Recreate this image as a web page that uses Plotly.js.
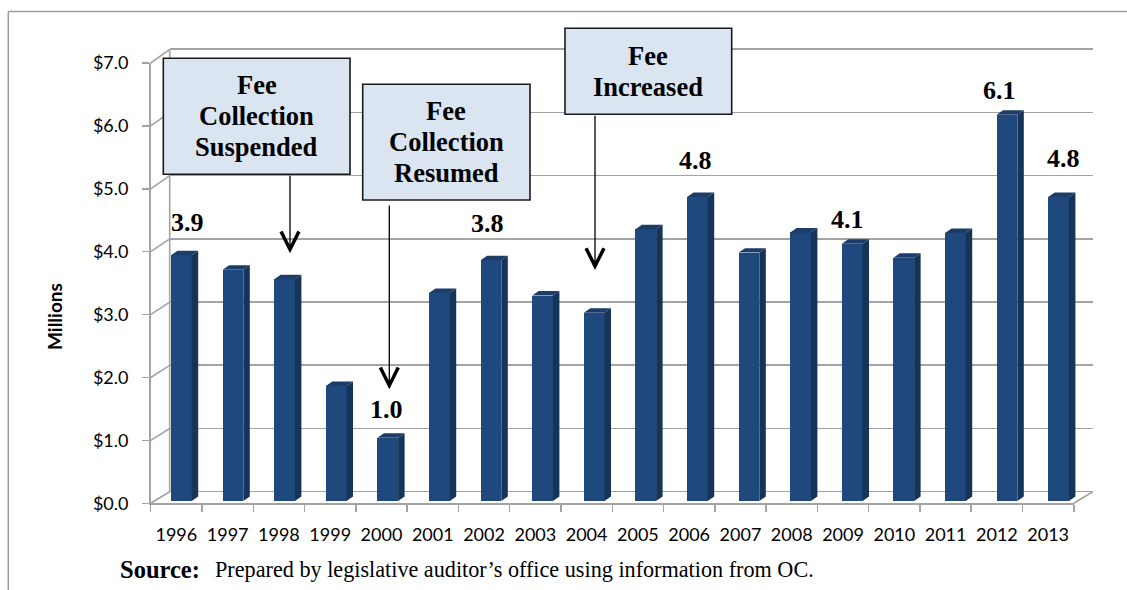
<!DOCTYPE html>
<html>
<head>
<meta charset="utf-8">
<script src="https://cdn.plot.ly/plotly-3.0.1.min.js"></script>
<style>html,body{margin:0;padding:0;background:#fff;}#chart{width:1127px;height:590px;}</style>
</head>
<body>
<div id="chart"></div>
<script>
// ---- data ----
const years = ["1996","1997","1998","1999","2000","2001","2002","2003","2004","2005","2006","2007","2008","2009","2010","2011","2012","2013"];
const values = [3.89, 3.66, 3.51, 1.82, 1.00, 3.29, 3.81, 3.25, 2.98, 4.30, 4.81, 3.93, 4.25, 4.07, 3.85, 4.24, 6.11, 4.81];
const yTicks = [0, 1, 2, 3, 4, 5, 6, 7];
const yTickText = ["$0.0","$1.0","$2.0","$3.0","$4.0","$5.0","$6.0","$7.0"];
const labelIdx = [0, 4, 6, 10, 13, 16, 17];
const calloutLines = [
  ["Fee", "Collection", "Suspended"],
  ["Fee", "Collection", "Resumed"],
  ["Fee", "Increased"]
];
const sourceLead = "Source:";
const sourceBody = "Prepared by legislative auditor\u2019s office using information from OC.";

// ---- geometry / style (pixels) ----
const W = 1127, H = 590;
const px = x => x / W, py = y => 1 - y / H;
const F = {x0: 150.7, x1: 1073.8, y0: 503.3, ppu: 62.9};   // front axis plane
const B = {x0: 169.7, x1: 1092.8, y0: 491.7, ppu: 63.2};   // back wall
const C = {x0: 154.5, cw: 51.6, y0: 501.0, ppu: 63.2};     // bar plane
const n = years.length;
const barOff = -0.18, barW = 0.401, dX = 0.126, dY = 0.071;
const gridCol = "#a3a3a3";
const serif = "Liberation Serif, Times New Roman, serif";
const sans = "Lato, Calibri, sans-serif";
const labelRise = [32.8, 27.8, 36.9, 37, 24.5, 24.8, 39];
const labelShift = [6, -1, -3, -2, -5, -7, 5];
const boxGeom = [
  {x0: 163.3, x1: 350, y0: 58.3, y1: 174.3, ax: 290, tail: 174.3, tip: 253.3},
  {x0: 362.7, x1: 530, y0: 84.3, y1: 200, ax: 389.3, tail: 204, tip: 389.3},
  {x0: 565, x1: 731.7, y0: 28.3, y1: 114.3, ax: 595, tail: 114.3, tip: 270}
];
const lineGap = 31;

const idx = years.map((_, i) => i);

// 3D faces derived from values
const sideX = [], sideY = [], topX = [], topY = [];
values.forEach((v, i) => {
  const xl = i + barOff, xr = xl + barW;
  sideX.push(xr, xr + dX, xr + dX, xr, null);
  sideY.push(0, dY, v + dY, v, null);
  topX.push(xl, xr, xr + dX, xl + dX, null);
  topY.push(v, v, v + dY, v + dY, null);
});

const traces = [
  {type: "bar", x: idx, y: values, xaxis: "x3", yaxis: "y3", width: barW, offset: barOff,
   marker: {color: "#1f497d", line: {width: 0}}, hoverinfo: "skip"},
  {type: "scatter", x: sideX, y: sideY, xaxis: "x3", yaxis: "y3", mode: "lines", fill: "toself",
   fillcolor: "#16335a", line: {width: 0, color: "#16335a"}, hoverinfo: "skip"},
  {type: "scatter", x: topX, y: topY, xaxis: "x3", yaxis: "y3", mode: "lines", fill: "toself",
   fillcolor: "#1b3d68", line: {width: 0, color: "#1b3d68"}, hoverinfo: "skip"},
  {type: "scatter", x: [0], y: [0], xaxis: "x", yaxis: "y", mode: "markers", marker: {opacity: 0}, hoverinfo: "skip"},
  {type: "scatter", x: [0], y: [0], xaxis: "x2", yaxis: "y2", mode: "markers", marker: {opacity: 0}, hoverinfo: "skip"}
];

const shapes = [];
const line = (x0, y0, x1, y1, color, width) => shapes.push({type: "line", xref: "paper", yref: "paper",
  x0: px(x0), y0: py(y0), x1: px(x1), y1: py(y1), line: {color: color, width: width}});
// outer frame
line(8.3, 11.5, W + 5, 11.5, "#9d9d9d", 1.5);
line(8.3, 11.5, 8.3, H + 5, "#9d9d9d", 1.5);
// side wall diagonals and edges
yTicks.forEach(v => line(F.x0, F.y0 - v * F.ppu, B.x0, B.y0 - v * B.ppu, gridCol, 1.6));
line(B.x0, B.y0, B.x0, B.y0 - yTicks[yTicks.length - 1] * B.ppu, gridCol, 1.6);
line(F.x1, F.y0, B.x1, B.y0, gridCol, 1.6);

const annotations = [];
// data labels
labelIdx.forEach((i, k) => annotations.push({
  xref: "x3", yref: "y3", x: i + barOff + barW / 2, y: values[i], text: "<b>" + values[i].toFixed(1) + "</b>",
  showarrow: false, xanchor: "center", yanchor: "middle", yshift: labelRise[k], xshift: labelShift[k],
  font: {family: serif, size: 26, color: "#000"}
}));
// callout boxes (shapes), text lines and arrows
calloutLines.forEach((lines, k) => {
  const g = boxGeom[k];
  shapes.push({type: "rect", xref: "paper", yref: "paper", x0: px(g.x0), x1: px(g.x1), y0: py(g.y0), y1: py(g.y1),
    fillcolor: "#dbe5f1", line: {color: "#1a1a1a", width: 1.6}});
  const cx = (g.x0 + g.x1) / 2, cy = (g.y0 + g.y1) / 2;
  lines.forEach((t, j) => {
    const ly = cy + (j - (lines.length - 1) / 2) * lineGap;
    annotations.push({xref: "paper", yref: "paper", x: px(cx), y: py(ly), xanchor: "center", yanchor: "middle",
      text: "<b>" + t + "</b>", showarrow: false, font: {family: serif, size: 26.5, color: "#000"}});
  });
  annotations.push({
    xref: "paper", yref: "paper", x: px(g.ax), y: py(g.tip), ax: 0, ay: -(g.tip - g.tail),
    text: "", showarrow: true, arrowhead: 5, arrowsize: 2.7, arrowwidth: 1.3, arrowcolor: "#000", standoff: 0
  });
});
// y axis title
annotations.push({xref: "paper", yref: "paper", x: px(54), y: py(317), text: "<b>Millions</b>", textangle: -90,
  showarrow: false, xanchor: "center", yanchor: "middle", font: {family: sans, size: 19, color: "#000"}});
// source
annotations.push({xref: "paper", yref: "paper", x: px(118), y: py(569), text: "<b>" + sourceLead + "</b>", showarrow: false,
  xanchor: "left", yanchor: "middle", font: {family: serif, size: 24.5, color: "#000"}});
annotations.push({xref: "paper", yref: "paper", x: px(213), y: py(569), text: sourceBody, showarrow: false,
  xanchor: "left", yanchor: "middle", font: {family: serif, size: 22.2, color: "#000"}});

const yPad = 0.02;
const layout = {
  width: W, height: H, margin: {l: 0, r: 0, t: 0, b: 0}, autosize: false,
  paper_bgcolor: "#fff", plot_bgcolor: "rgba(0,0,0,0)", showlegend: false, hovermode: false,
  // back wall
  xaxis: {domain: [px(B.x0), px(B.x1)], range: [0, 1], visible: false, fixedrange: true},
  yaxis: {domain: [py(B.y0 + yPad * B.ppu), py(B.y0 - (7 + yPad) * B.ppu)], range: [-yPad, 7 + yPad],
          tickvals: yTicks, showticklabels: false, ticks: "", showgrid: true, gridcolor: gridCol, gridwidth: 1.6,
          zeroline: false, showline: false, anchor: "x", fixedrange: true},
  // front axes
  xaxis2: {domain: [px(F.x0), px(F.x1)], range: [-0.5, n - 0.5], anchor: "y2", tickmode: "array",
           tickvals: idx, ticktext: years, ticks: "", showgrid: false, zeroline: false,
           showline: true, linecolor: gridCol, linewidth: 1.6, ticklabelstandoff: 14,
           minor: {tickmode: "array", tickvals: idx.concat([n]).map(i => i - 0.5), ticks: "outside", ticklen: 7, tickwidth: 1.5, tickcolor: gridCol, showgrid: false},
           tickfont: {family: sans, size: 18, color: "#000"}, fixedrange: true},
  yaxis2: {domain: [py(F.y0), py(F.y0 - 7 * F.ppu)], range: [0, 7], anchor: "x2", tickmode: "array",
           tickvals: yTicks, ticktext: yTickText, ticks: "outside", ticklen: 7, tickwidth: 1.5, tickcolor: gridCol,
           showgrid: false, zeroline: false, showline: true, linecolor: gridCol, linewidth: 1.6, ticklabelstandoff: 10,
           tickfont: {family: sans, size: 18, color: "#000"}, fixedrange: true},
  // bars plane
  xaxis3: {domain: [px(C.x0), px(C.x0 + n * C.cw)], range: [-0.5, n - 0.5], anchor: "y3", visible: false, fixedrange: true},
  yaxis3: {domain: [py(C.y0), py(C.y0 - 7 * C.ppu)], range: [0, 7], anchor: "x3", visible: false, fixedrange: true},
  shapes: shapes, annotations: annotations, bargap: 0
};

Plotly.newPlot("chart", traces, layout, {staticPlot: true, displayModeBar: false});
</script>
</body>
</html>
